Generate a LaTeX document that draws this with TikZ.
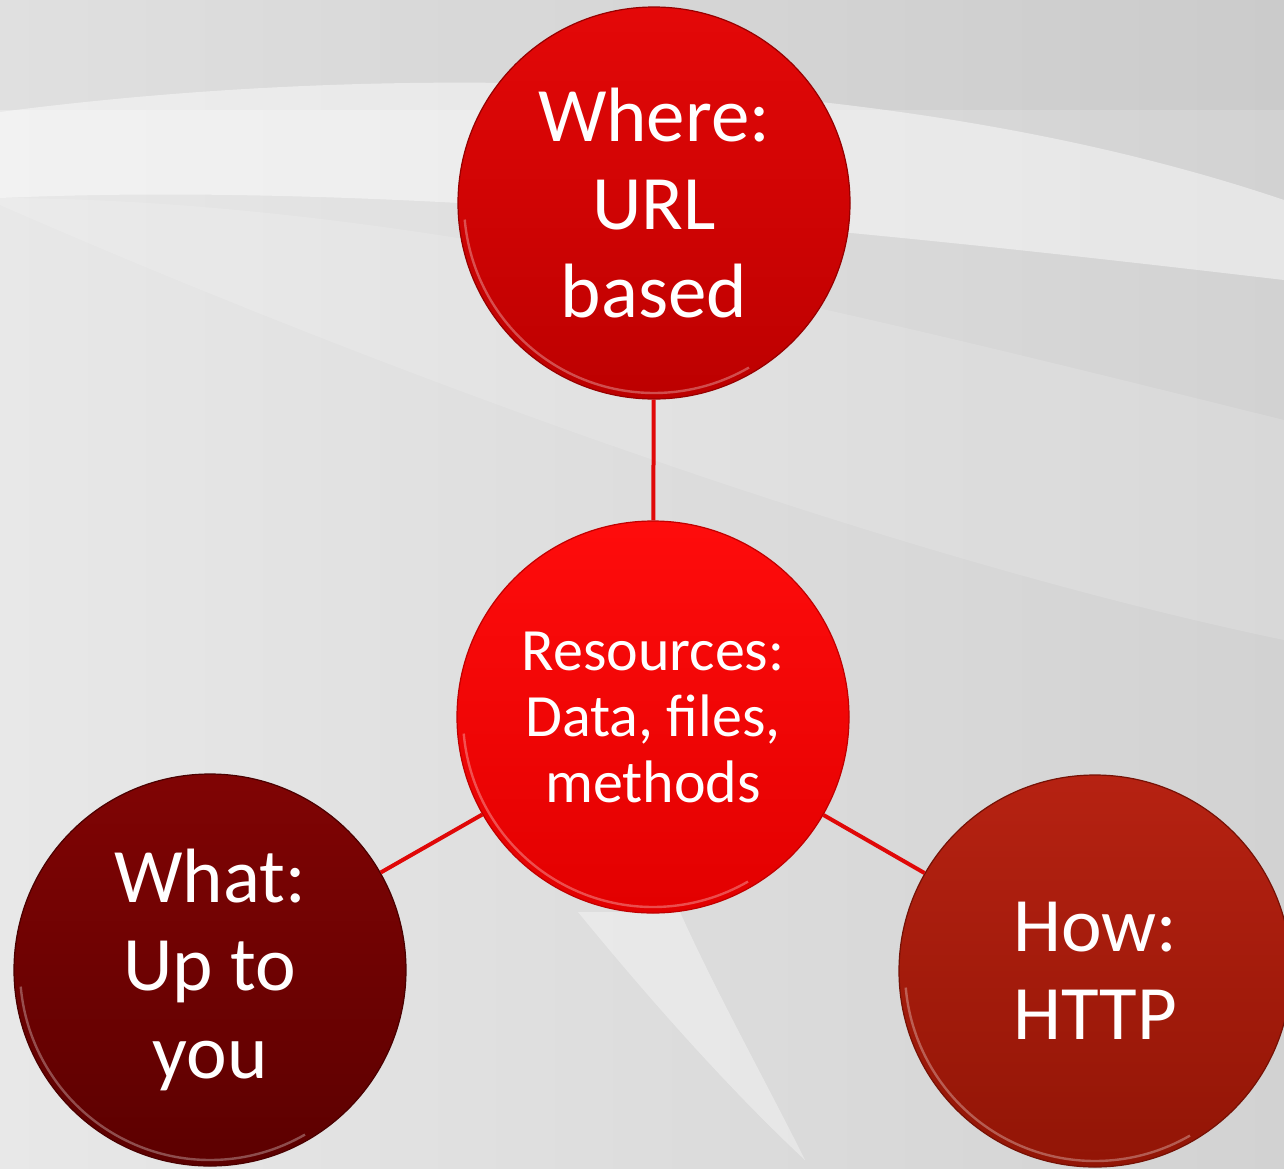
\documentclass[tikz,border=0pt]{standalone}
\usepackage{fontspec}
\setmainfont{Carlito}
\definecolor{bgL}{HTML}{E8E8E8}
\definecolor{bgR}{HTML}{D2D2D2}
\definecolor{topA}{HTML}{E40808}
\definecolor{topB}{HTML}{BC0000}
\definecolor{midA}{HTML}{FF0C0C}
\definecolor{midB}{HTML}{E20000}
\definecolor{whatA}{HTML}{800404}
\definecolor{whatB}{HTML}{5C0000}
\definecolor{howA}{HTML}{B62212}
\definecolor{howB}{HTML}{921506}
\definecolor{linkred}{HTML}{E00808}
\begin{document}
\begin{tikzpicture}[x=0.5pt,y=0.5pt,
  bubble/.style={circle, minimum size=196pt, inner sep=0pt, text=white, align=center, line width=0.6pt},
  bigtext/.style={font=\fontsize{38.5}{44}\selectfont},
  midtext/.style={font=\fontsize{30}{33}\selectfont},
  connector/.style={draw=linkred, line width=2pt},
  rim/.style={draw=white, line width=1.2pt, opacity=0.3}]
\useasboundingbox (0,0) rectangle (1284,-1168);
\clip (0,0) rectangle (1284,-1168);
% background
\shade[left color=bgL, right color=bgR] (0,0) rectangle (1284,-1168);
\fill[black, opacity=0.03] (0,0) rectangle (1284,-110);
\fill[white, opacity=0.45] (0,-112) .. controls (400,-60) and (900,-70) .. (1284,-200)
  -- (1284,-280) .. controls (900,-235) and (400,-180) .. (0,-198) -- cycle;
\fill[white, opacity=0.15] (0,-198) .. controls (400,-200) and (800,-300) .. (1284,-420)
  -- (1284,-640) .. controls (900,-560) and (400,-380) .. (0,-205) -- cycle;
\fill[white, opacity=0.35] (578,-912) .. controls (650,-1000) and (730,-1090) .. (805,-1160)
  .. controls (765,-1080) and (715,-990) .. (680,-912) -- cycle;
% circles
\node[bubble, bigtext, top color=topA, bottom color=topB, draw=topB!80!black] (where) at (654,-203) {Where:\\URL\\based};
\node[bubble, midtext, top color=midA, bottom color=midB, draw=midB!85!black] (res) at (653,-717) {Resources:\\Data, files,\\methods};
\node[bubble, bigtext, top color=whatA, bottom color=whatB, draw=whatB!80!black] (what) at (210,-970) {What:\\Up to\\you};
\node[bubble, bigtext, top color=howA, bottom color=howB, draw=howB!80!black] (how) at (1095,-971) {How:\\HTTP};
% rim highlights
\foreach \n in {where,res,what,how}{
  \draw[rim] ([shift={(185:95pt)}]\n.center) arc[start angle=185, end angle=300, radius=95pt];
}
% connectors
\draw[connector] (where) -- (res);
\draw[connector] (res) -- (what);
\draw[connector] (res) -- (how);
\end{tikzpicture}
\end{document}
